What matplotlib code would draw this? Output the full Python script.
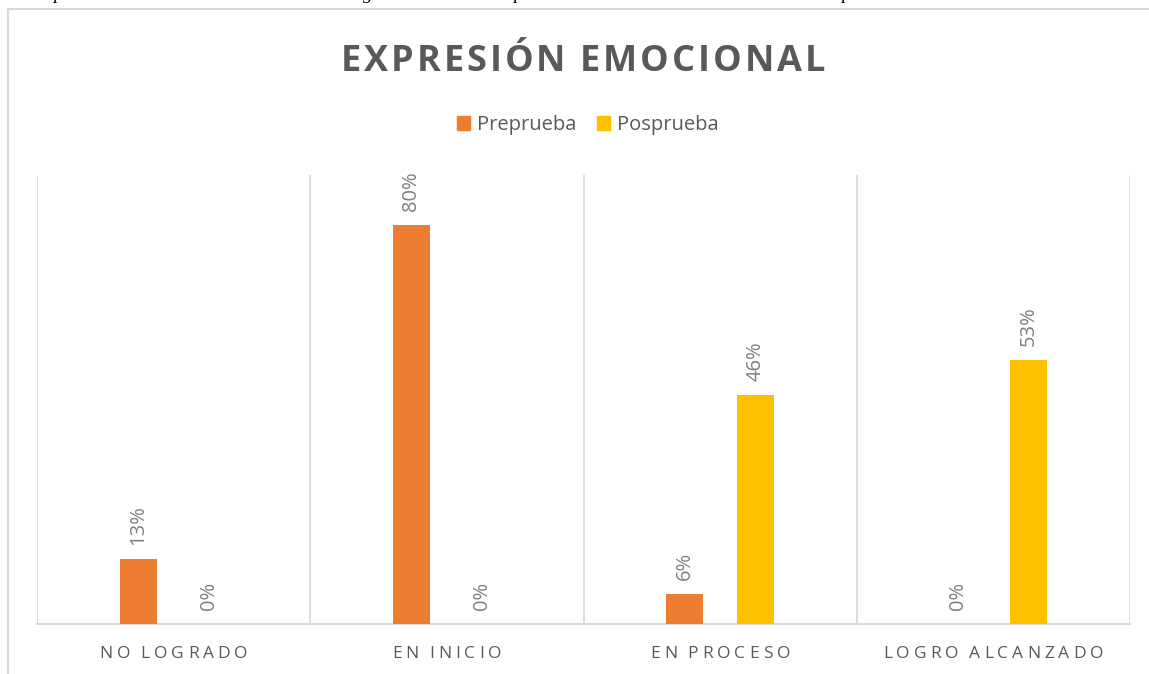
#!/usr/bin/env python3
"""Expresion emocional: preprueba vs posprueba, grouped bars."""

import matplotlib

matplotlib.use("Agg")
import matplotlib.pyplot as plt
import numpy as np
from matplotlib.font_manager import FontProperties, findfont, get_font
from matplotlib.lines import Line2D
from matplotlib.patches import Patch

categories = ["NO LOGRADO", "EN INICIO", "EN PROCESO", "LOGRO ALCANZADO"]
preprueba = [13, 80, 6, 0]
posprueba = [0, 0, 46, 53]
series_names = ["Preprueba", "Posprueba"]
title = "EXPRESIÓN EMOCIONAL"

ORANGE = "#ED7D31"
YELLOW = "#FFC000"
TEXT = "#595959"
LABEL = "#7F7F7F"
GRID = "#D9D9D9"

W_PX, H_PX, DPI = 1149, 674, 100


def spaced_text(fig, xc, y_base, s, size, tracking, color, weight="normal", space_scale=0.7):
    """Draw text with letter spacing; xc / y_base in pixels (y from top)."""
    fp = FontProperties(family="Open Sans", weight=weight, size=size)
    font = get_font(findfont(fp))
    font.set_size(size, fig.dpi)
    adv = []
    for ch in s:
        a = font.load_char(ord(ch)).linearHoriAdvance / 65536
        adv.append(a * space_scale if ch == " " else a)
    total = sum(adv) + tracking * (len(s) - 1)
    x = xc - total / 2
    for ch, a in zip(s, adv):
        if ch != " ":
            fig.text((x + a / 2) / W_PX, 1 - y_base / H_PX, ch, fontproperties=fp,
                     color=color, ha="center", va="baseline")
        x += a + tracking


fig = plt.figure(figsize=(W_PX / DPI, H_PX / DPI), dpi=DPI)

# plot area in pixels: left 37, right 1130, top 175, bottom 624
ax = fig.add_axes([37 / W_PX, 1 - 624 / H_PX, (1130 - 37) / W_PX, (624 - 175) / H_PX])

x = np.arange(len(categories))
width = 0.135
offset = 0.13
ax.bar(x - offset, preprueba, width, color=ORANGE, zorder=3)
ax.bar(x + offset, posprueba, width, color=YELLOW, zorder=3)

for xs, vals in ((x - offset, preprueba), (x + offset, posprueba)):
    for xi, v in zip(xs, vals):
        ax.annotate(f"{v}%", (xi, v), xytext=(0, 10), textcoords="offset points",
                    rotation=90, ha="center", va="bottom", color=LABEL,
                    fontsize=14.5, family="Open Sans")

ax.set_xlim(-0.5, len(categories) - 0.5)
ax.set_ylim(0, 90)
for b in np.arange(len(categories) + 1) - 0.5:
    ax.axvline(b, color=GRID, lw=1.3, zorder=1)
for side in ("top", "left", "right"):
    ax.spines[side].set_visible(False)
ax.spines["bottom"].set_color(GRID)
ax.spines["bottom"].set_linewidth(1.5)
ax.set_xticks([])
ax.set_yticks([])

# category labels with letter spacing
fig.canvas.draw()
for xi, cat in zip(x, categories):
    px = ax.transData.transform((xi, 0))[0]
    spaced_text(fig, px, 658, cat, 12.5, 4.0, TEXT, space_scale=0.6)

spaced_text(fig, 583, 71, title, 26, 3.0, TEXT, weight="bold", space_scale=0.9)

handles = [Patch(color=ORANGE), Patch(color=YELLOW)]
fig.legend(handles, series_names, loc="center", bbox_to_anchor=(588 / W_PX, 1 - 125 / H_PX),
           ncol=2, frameon=False, handlelength=0.65, handleheight=0.65, handletextpad=0.35,
           columnspacing=1.0, prop=FontProperties(family="Open Sans", size=14.5),
           labelcolor=TEXT)

# outer chart frame (partly cropped)
fig.add_artist(Line2D([8 / W_PX, 8 / W_PX], [0, 1 - 9 / H_PX], color=GRID, lw=1.5))
fig.add_artist(Line2D([8 / W_PX, 1], [1 - 9 / H_PX, 1 - 9 / H_PX], color=GRID, lw=1.5))

# descenders of the cropped caption above the chart
for cx, ch in ((58, "p"), (368, "g"), (518, "p"), (846, "p")):
    fig.text(cx / W_PX, 1 + 1 / H_PX, ch, family="Liberation Serif", style="italic",
             fontsize=14, ha="center", va="baseline", color="black")

fig.savefig("out.png", dpi=DPI)
